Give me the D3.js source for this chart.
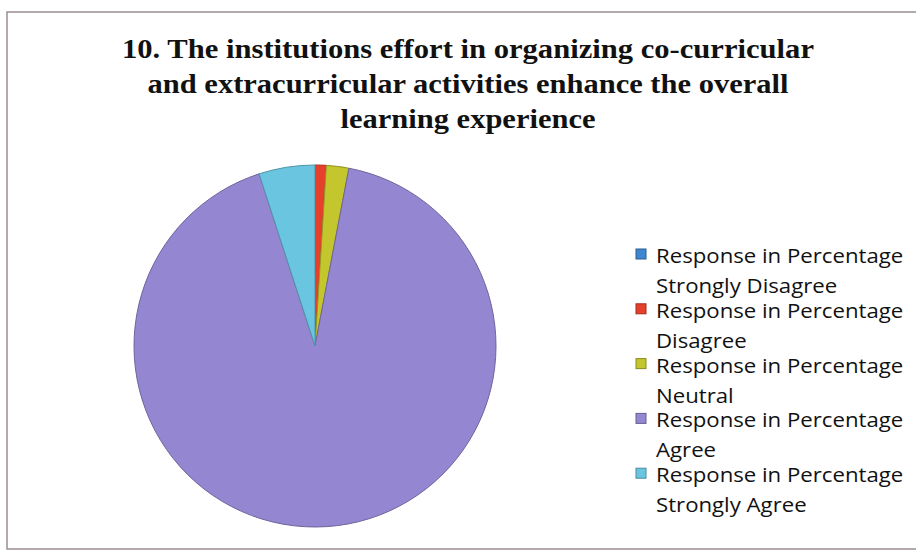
<!DOCTYPE html>
<html>
<head>
<meta charset="utf-8">
<script src="https://cdn.jsdelivr.net/npm/d3@7"></script>
<style>
  body { margin: 0; background: #fff; }
  svg { display: block; }
</style>
</head>
<body>
<div id="chart-area"></div>
<script>

// Data
var categories = ["Strongly Disagree", "Disagree", "Neutral", "Agree", "Strongly Agree"];
var values = [0, 1, 2, 92, 5];
var seriesName = "Response in Percentage";
var colors = ["#3f86d0", "#e5402c", "#c4c62e", "#9486d0", "#6ac5e0"];
var titleLines = [
  "10. The institutions effort in organizing co-curricular",
  "and extracurricular activities enhance the overall",
  "learning experience"
];
// measured widths of the title lines in the picture
var titleWidths = [692, 641, 255];

var width = 916, height = 552;

var svg = d3.select("#chart-area").append("svg")
    .attr("width", width)
    .attr("height", height);

// frame
svg.append("rect")
    .attr("x", 7).attr("y", 12)
    .attr("width", 920).attr("height", 537)
    .attr("fill", "#fff")
    .attr("stroke", "#9b8c92")
    .attr("stroke-width", 1.5);

// title
svg.append("g").selectAll("text")
    .data(titleLines)
  .enter().append("text")
    .attr("x", 468)
    .attr("y", function(d, i) { return 58 + i * 35; })
    .attr("text-anchor", "middle")
    .attr("font-family", "'Liberation Serif', 'Times New Roman', serif")
    .attr("font-weight", "bold")
    .attr("font-size", 27)
    .attr("textLength", function(d, i) { return titleWidths[i]; })
    .attr("lengthAdjust", "spacingAndGlyphs")
    .attr("fill", "#111")
    .text(function(d) { return d; });

// pie
var data = categories.map(function(c, i) { return {name: c, value: values[i], color: colors[i]}; });

var pie = d3.pie()
    .sort(null)
    .value(function(d) { return d.value; });

var arc = d3.arc()
    .innerRadius(0)
    .outerRadius(181);

var pieGroup = svg.append("g")
    .attr("transform", "translate(315,346)");

pieGroup.selectAll("path")
    .data(pie(data))
  .enter().append("path")
    .attr("d", arc)
    .attr("fill", function(d) { return d.data.color; })
    .attr("stroke", function(d) { return d.data.value > 0 ? d3.color(d.data.color).darker(0.8) : "none"; })
    .attr("stroke-width", 1);

// legend
var legend = svg.append("g")
    .attr("transform", "translate(636,263)");

var item = legend.selectAll("g")
    .data(data)
  .enter().append("g")
    .attr("transform", function(d, i) { return "translate(0," + (i * 54.8) + ")"; });

item.append("rect")
    .attr("x", 0).attr("y", -14)
    .attr("width", 10).attr("height", 10)
    .attr("fill", function(d) { return d.color; })
    .attr("stroke", function(d) { return d3.color(d.color).darker(1); })
    .attr("stroke-width", 1);

// text in the picture is a little wider than Open Sans, so stretch it
var labels = item.append("g")
    .attr("transform", "translate(20,0) scale(1.11,1)");

labels.append("text")
    .attr("x", 0).attr("y", 0)
    .attr("font-family", "'Open Sans', Lato, sans-serif")
    .attr("font-size", 20)
    .attr("font-weight", 500)
    .attr("fill", "#111")
    .text(seriesName);

labels.append("text")
    .attr("x", 0).attr("y", 30)
    .attr("font-family", "'Open Sans', Lato, sans-serif")
    .attr("font-size", 20)
    .attr("font-weight", 500)
    .attr("fill", "#111")
    .text(function(d) { return d.name; });

</script>
</body>
</html>
